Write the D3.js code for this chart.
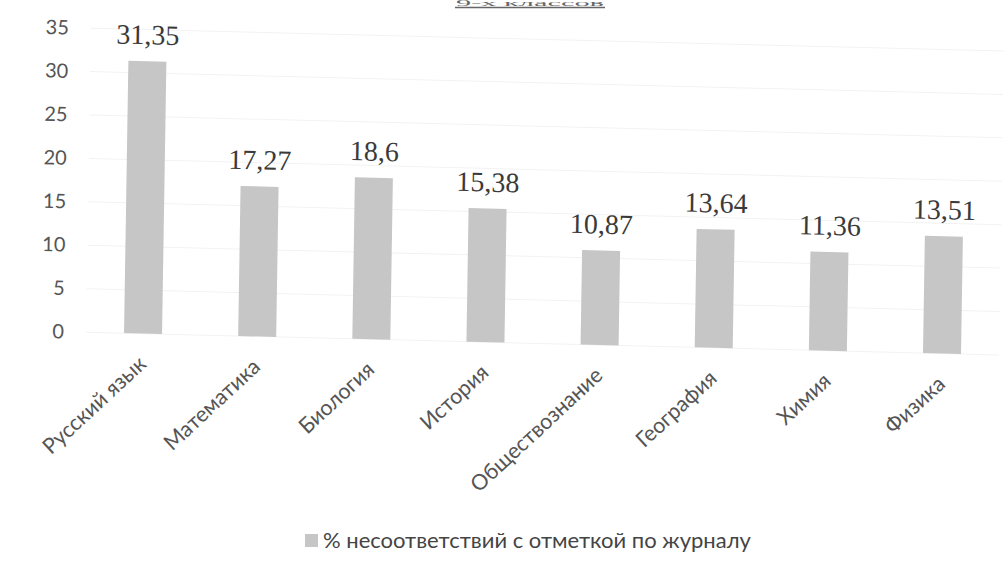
<!DOCTYPE html>
<html>
<head>
<meta charset="utf-8">
<script src="https://cdn.jsdelivr.net/npm/d3@7"></script>
<style>
  html, body { margin: 0; padding: 0; background: #fff; }
  svg { display: block; }
</style>
</head>
<body>
<svg id="chart" width="1008" height="561"></svg>
<script>
const categories = ["Русский язык", "Математика", "Биология", "История", "Обществознание", "География", "Химия", "Физика"];
const valueLabels = ["31,35", "17,27", "18,6", "15,38", "10,87", "13,64", "11,36", "13,51"];
const values = [31.35, 17.27, 18.6, 15.38, 10.87, 13.64, 11.36, 13.51];
const yTicks = [0, 5, 10, 15, 20, 25, 30, 35];
const seriesName = "% несоответствий с отметкой по журналу";
const titleText = "9-х классов";

const svg = d3.select("#chart");

// Title (only a sliver visible at the top edge in the scan)
svg.append("text")
  .attr("x", 530).attr("y", 6)
  .attr("text-anchor", "middle")
  .attr("font-family", "Liberation Serif, serif")
  .attr("font-size", 8)
  .attr("fill", "#666")
  .attr("textLength", 148)
  .attr("lengthAdjust", "spacingAndGlyphs")
  .text(titleText);
svg.append("line").attr("x1", 455).attr("x2", 605).attr("y1", 7.5).attr("y2", 7.5)
  .attr("stroke", "#666").attr("stroke-width", 1.5);

// Scanned page is slightly sheared
const g = svg.append("g").attr("transform", "matrix(1,0.025,-0.016,1,5.3,0)");

const x = d3.scaleBand().domain(categories).range([86, 999]).paddingInner(0.667).paddingOuter(0.333);
const y = d3.scaleLinear().domain([0, 35]).range([330, 26]);

// gridlines
g.append("g").selectAll("line").data(yTicks).join("line")
  .attr("x1", 86).attr("x2", 999)
  .attr("y1", d => y(d)).attr("y2", d => y(d))
  .attr("stroke", "#f2f2f2").attr("stroke-width", 1);

// y axis labels
const yAxis = d3.axisLeft(y).tickValues(yTicks).tickSize(0).tickPadding(0);
const ya = g.append("g").attr("transform", "translate(64,0)").call(yAxis);
ya.select(".domain").remove();
ya.selectAll("text")
  .attr("font-family", "Lato, 'Open Sans', sans-serif")
  .attr("font-size", 20)
  .attr("fill", "#555");

// bars
g.append("g").selectAll("rect").data(values).join("rect")
  .attr("x", (d, i) => x(categories[i]))
  .attr("width", x.bandwidth())
  .attr("y", d => y(d))
  .attr("height", d => y(0) - y(d))
  .attr("fill", "#c6c6c6");

// data labels
g.append("g").selectAll("text").data(values).join("text")
  .attr("x", (d, i) => x(categories[i]) + x.bandwidth() / 2)
  .attr("y", d => y(d) - 17)
  .attr("text-anchor", "middle")
  .attr("font-family", "Liberation Serif, 'Times New Roman', serif")
  .attr("font-size", 28)
  .attr("fill", "#3a3a3a")
  .text((d, i) => valueLabels[i]);

// category labels
const xAxis = d3.axisBottom(x).tickSize(0).tickPadding(0);
const xa = g.append("g").attr("transform", `translate(0,${y(0)})`).call(xAxis);
xa.select(".domain").remove();
xa.selectAll("text")
  .attr("font-family", "Lato, 'Open Sans', sans-serif")
  .attr("font-size", 21.5)
  .attr("fill", "#555")
  .attr("text-anchor", "end")
  .attr("dy", null)
  .attr("transform", "translate(5,32) rotate(-44)");

// legend
const lg = svg.append("g").attr("transform", "translate(305,534)");
lg.append("rect").attr("width", 13).attr("height", 13).attr("fill", "#c6c6c6");
lg.append("text").attr("x", 18).attr("y", 14)
  .attr("font-family", "Lato, 'Open Sans', sans-serif")
  .attr("font-size", 22)
  .attr("fill", "#444")
  .text(seriesName);
</script>
</body>
</html>
